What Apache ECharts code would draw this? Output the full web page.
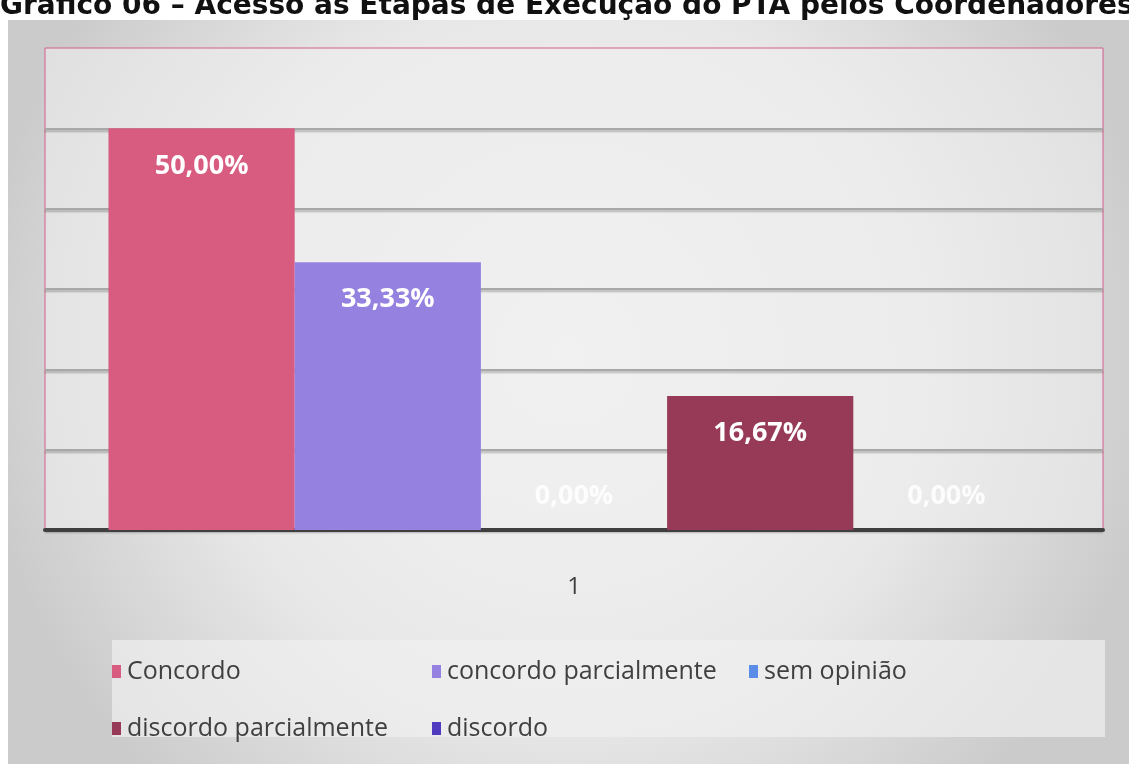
<!DOCTYPE html>
<html>
<head>
<meta charset="utf-8">
<script src="https://cdn.jsdelivr.net/npm/echarts@6/dist/echarts.min.js"></script>
<style>
  html, body { margin: 0; padding: 0; background: #fff; }
  #chart { width: 1129px; height: 764px; }
</style>
</head>
<body>
<div id="chart"></div>
<script>
// dados
const categorias = ['1']
const seriesNomes = ['Concordo', 'concordo parcialmente', 'sem opinião', 'discordo parcialmente', 'discordo']
const valores = [50.00, 33.33, 0.00, 16.67, 0.00]
const cores = ['#D75C80', '#9581E0', '#5B8CE8', '#973A57', '#4F3BBF']

// posição de cada item da legenda (estilo Excel, em colunas)
const legendaPos = [[112, 659], [432, 659], [749, 659], [112, 716], [432, 716]]

const chart = echarts.init(document.getElementById('chart'))

const fmt = v => v.toFixed(2).replace('.', ',') + '%'

const series = seriesNomes.map((nome, i) => ({
  name: nome,
  type: 'bar',
  barGap: '0%',
  barCategoryGap: '12%',
  data: [valores[i]],
  itemStyle: { color: cores[i] },
  label: {
    show: true,
    position: valores[i] > 0 ? 'insideTop' : 'insideBottom',
    distance: valores[i] > 0 ? 24 : 20,
    formatter: p => fmt(p.value),
    color: valores[i] > 0 ? '#ffffff' : 'rgba(255,255,255,0.85)',
    fontSize: 27,
    fontWeight: 'bold',
    fontFamily: 'Open Sans'
  }
}))

const legendas = seriesNomes.map((nome, i) => ({
  data: [nome],
  left: legendaPos[i][0],
  top: legendaPos[i][1],
  icon: 'rect',
  itemWidth: 9,
  itemHeight: 13,
  itemGap: 4,
  padding: 0,
  textStyle: { fontSize: 25, color: '#404040', fontFamily: 'Open Sans', padding: [0, 0, 0, 1] }
}))

chart.setOption({
  backgroundColor: '#ffffff',
  animation: false,
  title: {
    text: 'Gráfico 06 – Acesso às Etapas de Execução do PTA pelos Coordenadores',
    left: 0,
    top: -7,
    padding: 0,
    textStyle: { fontSize: 28, fontWeight: 'bold', color: '#111', fontFamily: 'DejaVu Sans' }
  },
  graphic: [
    {
      type: 'rect',
      z: -10,
      shape: { x: 8, y: 20, width: 1121, height: 744 },
      style: {
        fill: new echarts.graphic.RadialGradient(0.5, 0.45, 0.8, [
          { offset: 0, color: '#F4F4F4' },
          { offset: 0.6, color: '#E8E8E8' },
          { offset: 1, color: '#CBCBCB' }
        ])
      }
    },
    {
      type: 'rect',
      z: -9,
      shape: { x: 112, y: 640, width: 993, height: 97 },
      style: { fill: 'rgba(240,240,240,0.7)' }
    }
  ],
  legend: legendas,
  grid: {
    left: 45,
    right: 26,
    top: 48,
    bottom: 234,
    show: true,
    borderColor: '#D65C8E',
    borderWidth: 1,
    backgroundColor: 'rgba(238,238,238,0.6)'
  },
  xAxis: {
    type: 'category',
    data: categorias,
    axisTick: { show: false },
    axisLine: { lineStyle: { color: '#3F3F3F', width: 4 } },
    axisLabel: { fontSize: 24, color: '#404040', margin: 45, fontFamily: 'Open Sans' }
  },
  yAxis: {
    type: 'value',
    min: 0,
    max: 60,
    interval: 10,
    axisLabel: { show: false },
    axisLine: { show: false },
    axisTick: { show: false },
    splitLine: {
      showMaxLine: false,
      lineStyle: { color: '#A8A8A8', width: 2, shadowColor: 'rgba(0,0,0,0.25)', shadowOffsetY: 2, shadowBlur: 2 }
    }
  },
  series: series
})
</script>
</body>
</html>
